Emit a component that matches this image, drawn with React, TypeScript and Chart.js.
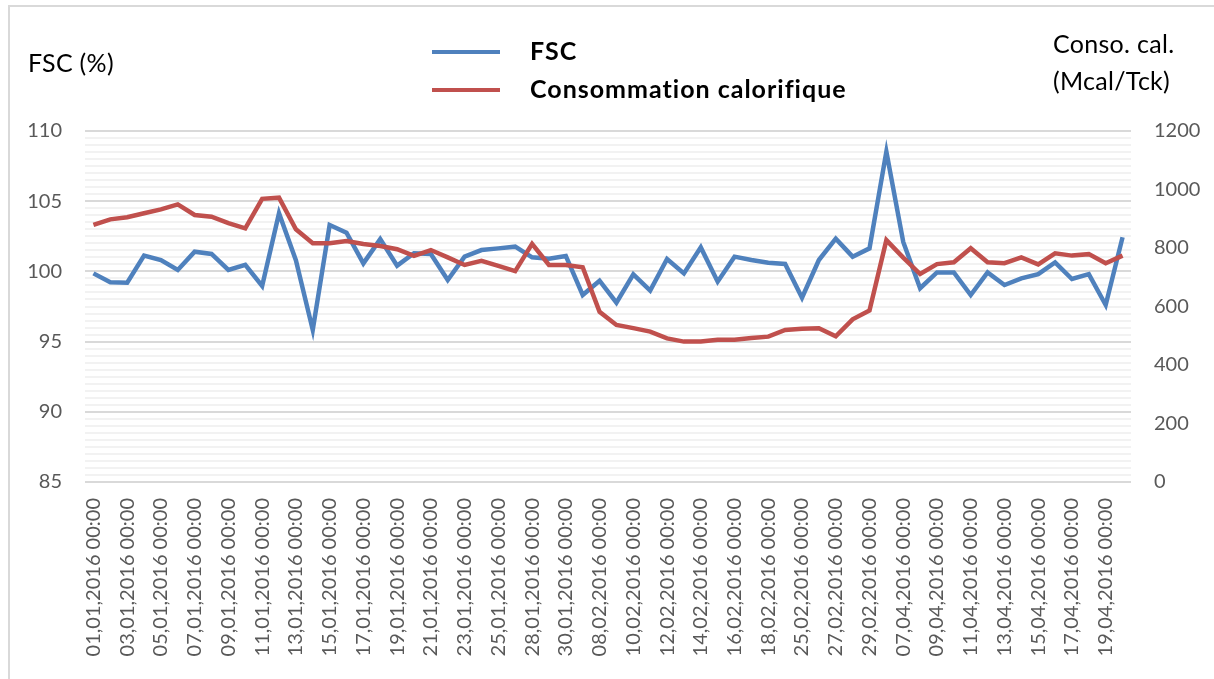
import React, { useEffect, useRef } from "react";
import { Chart, registerables } from "chart.js";

Chart.register(...registerables);

const dates: string[] = [
  "01,01", "02,01", "03,01", "04,01", "05,01", "06,01", "07,01", "08,01", "09,01", "10,01",
  "11,01", "12,01", "13,01", "14,01", "15,01", "16,01", "17,01", "18,01", "19,01", "20,01",
  "21,01", "22,01", "23,01", "24,01", "25,01", "26,01", "28,01", "29,01", "30,01", "31,01",
  "08,02", "09,02", "10,02", "11,02", "12,02", "13,02", "14,02", "15,02", "16,02", "17,02",
  "18,02", "19,02", "25,02", "26,02", "27,02", "28,02", "29,02", "06,04", "07,04", "08,04",
  "09,04", "10,04", "11,04", "12,04", "13,04", "14,04", "15,04", "16,04", "17,04", "18,04",
  "19,04", "20,04",
];
const categories: string[] = dates.map((d) => `${d},2016 00:00`);

const fsc: number[] = [
  99.86, 99.22, 99.2, 101.12, 100.8, 100.1, 101.4, 101.24, 100.1, 100.46,
  98.96, 104.14, 100.8, 95.83, 103.3, 102.76, 100.57, 102.3, 100.41, 101.29,
  101.24, 99.39, 101.05, 101.52, 101.64, 101.76, 101.0, 100.9, 101.1, 98.32,
  99.34, 97.77, 99.79, 98.63, 100.88, 99.86, 101.71, 99.27, 101.05, 100.81,
  100.62, 100.53, 98.13, 100.81, 102.33, 101.05, 101.64, 108.53, 102.1, 98.8,
  99.93, 99.93, 98.32, 99.93, 99.03, 99.5, 99.81, 100.64, 99.46, 99.81,
  97.61, 102.43,
];

const conso: number[] = [
  879, 898, 905, 919, 932, 949, 913, 907, 885, 867,
  968, 972, 864, 816, 816, 824, 814, 807, 796, 773,
  793, 768, 742, 756, 739, 721, 814, 742, 742, 734,
  582, 537, 526, 514, 491, 480, 480, 486, 486, 492,
  497, 520, 524, 526, 498, 556, 586, 827, 767, 711,
  745, 751, 799, 751, 748, 768, 744, 782, 774, 779,
  748, 774,
];

const leftTicks = { min: 85, max: 110, step: 0.5, major: 5 };
const rightTicks = { min: 0, max: 1200, step: 200 };

const FONT = 'Lato, "Open Sans", sans-serif';
const BLUE = "#4F81BD";
const RED = "#C0504D";

export default function App() {
  const ref = useRef<HTMLCanvasElement>(null);

  useEffect(() => {
    if (!ref.current) return;
    const chart = new Chart(ref.current, {
      type: "line",
      data: {
        labels: categories,
        datasets: [
          {
            label: "FSC",
            data: fsc,
            borderColor: BLUE,
            backgroundColor: BLUE,
            borderWidth: 4.5,
            pointRadius: 0,
            tension: 0,
            yAxisID: "y",
            order: 1,
          },
          {
            label: "Consommation calorifique",
            data: conso,
            borderColor: RED,
            backgroundColor: RED,
            borderWidth: 4.5,
            pointRadius: 0,
            tension: 0,
            yAxisID: "y1",
            order: 0,
          },
        ],
      },
      options: {
        animation: false,
        responsive: false,
        maintainAspectRatio: false,
        layout: { padding: { top: 131, left: 0, right: 0, bottom: 0 } },
        plugins: { legend: { display: false }, tooltip: { enabled: false } },
        scales: {
          x: {
            type: "category",
            offset: true,
            grid: { display: false, drawTicks: false },
            border: { display: false },
            ticks: {
              autoSkip: false,
              maxRotation: 90,
              minRotation: 90,
              padding: 16,
              color: "#595959",
              font: { family: FONT, size: 20 },
              callback: (_v: any, i: number) => (i % 2 === 0 ? categories[i] : ""),
            },
            afterFit: (s: any) => {
              s.height = 197;
            },
          },
          y: {
            position: "left",
            min: leftTicks.min,
            max: leftTicks.max,
            grid: {
              drawTicks: false,
              lineWidth: 2,
              color: (ctx: any) =>
                ctx.tick && ctx.tick.value % leftTicks.major === 0 ? "#d9d9d9" : "#f2f2f2",
            },
            border: { display: false },
            ticks: {
              stepSize: leftTicks.step,
              maxTicksLimit: 1000,
              autoSkip: false,
              padding: 23,
              color: "#595959",
              font: { family: FONT, size: 20 },
              callback: (v: any) => (Number(v) % leftTicks.major === 0 ? String(v) : ""),
            },
            afterFit: (s: any) => {
              s.width = 85;
            },
          },
          y1: {
            position: "right",
            min: rightTicks.min,
            max: rightTicks.max,
            grid: { drawOnChartArea: false, drawTicks: false },
            border: { display: false },
            ticks: {
              stepSize: rightTicks.step,
              padding: 23,
              color: "#595959",
              font: { family: FONT, size: 20 },
              callback: (v: any) => String(v),
            },
            afterFit: (s: any) => {
              s.width = 83;
            },
          },
        },
      },
    });
    return () => chart.destroy();
  }, []);

  const text: React.CSSProperties = {
    position: "absolute",
    fontFamily: FONT,
    color: "#000",
    whiteSpace: "nowrap",
    lineHeight: 1,
  };

  return (
    <div
      style={{
        position: "absolute",
        left: 0,
        top: 0,
        width: 1214,
        height: 679,
        overflow: "hidden",
        background: "#fff",
      }}
    >
      <div
        style={{
          position: "absolute",
          left: 8,
          top: 5,
          width: 1300,
          height: 800,
          border: "2px solid #d9d9d9",
        }}
      />
      <canvas
        ref={ref}
        width={1214}
        height={679}
        style={{ position: "absolute", left: 0, top: 0, width: 1214, height: 679 }}
      />
      <div style={{ ...text, left: 28, top: 50, fontSize: 25, letterSpacing: 0.3 }}>FSC (%)</div>
      <div style={{ ...text, left: 1053, top: 31, fontSize: 25, letterSpacing: 0.3 }}>Conso. cal.</div>
      <div style={{ ...text, left: 1053, top: 68, fontSize: 25, letterSpacing: 0.3 }}>(Mcal/Tck)</div>
      <div style={{ position: "absolute", left: 432, top: 50, width: 68, height: 4, background: BLUE }} />
      <div style={{ position: "absolute", left: 432, top: 88, width: 68, height: 4, background: RED }} />
      <div style={{ ...text, left: 530, top: 38, fontSize: 25, fontWeight: 700, letterSpacing: 1 }}>FSC</div>
      <div style={{ ...text, left: 530, top: 76, fontSize: 25, fontWeight: 700, letterSpacing: 1 }}>
        Consommation calorifique
      </div>
    </div>
  );
}
